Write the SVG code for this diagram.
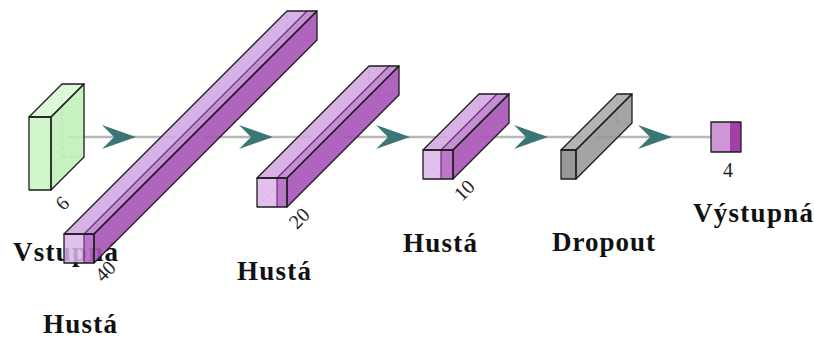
<svg xmlns="http://www.w3.org/2000/svg" width="814" height="339" viewBox="0 0 814 339">
<style>
.line{stroke:#b8b8b8;stroke-width:2.5;fill:none}
.head{fill:#3b7676}
.edge{fill:none;stroke:#1c1c1c;stroke-width:1.3;stroke-linejoin:round}
.hid{fill:none;stroke:#555;stroke-width:0.9;stroke-dasharray:4 3;opacity:0.7}
.band{fill:none;stroke:#5e2a6a;stroke-width:1.1}
.fl{fill:#dcb6e8;fill-opacity:0.85}
.fb{fill:#b469c2;fill-opacity:0.9}
.tl{fill:#d2a4e0;fill-opacity:0.85}
.tb{fill:#c083ce;fill-opacity:0.9}
.sd{fill:#a853b7;fill-opacity:0.9}
.lbl{font-family:"Liberation Serif",serif;font-weight:bold;font-size:27px;fill:#111;text-anchor:middle}
.num{font-family:"Liberation Serif",serif;font-size:20px;fill:#222;text-anchor:middle;dominant-baseline:central}
</style>
<defs>
<path id="ah" d="M0,0 L-34,-12 L-22,0 L-34,12 Z"/>
</defs>
<rect width="814" height="339" fill="#fff"/>
<g id="connectors">
<line class="line" x1="68" y1="137" x2="176" y2="137"/>
<line class="line" x1="205" y1="137" x2="312" y2="137"/>
<line class="line" x1="342" y1="137" x2="447" y2="137"/>
<line class="line" x1="480" y1="137" x2="583" y2="137"/>
<line class="line" x1="596" y1="137" x2="711" y2="137"/>
<use href="#ah" class="head" x="136" y="137"/>
<use href="#ah" class="head" x="273" y="137"/>
<use href="#ah" class="head" x="410" y="137"/>
<use href="#ah" class="head" x="548" y="137"/>
<use href="#ah" class="head" x="672" y="137"/>
</g>
<g id="input">
<path class="hid" d="M62,157 L62,84 M62,157 L84,157 M62,157 L29,190"/>
<rect x="29" y="117" width="22" height="73" fill="#c9f4c2" fill-opacity="0.85"/>
<polygon points="29,117 51,117 84,84 62,84" fill="#d8f8d2" fill-opacity="0.85"/>
<polygon points="51,117 51,190 84,157 84,84" fill="#bdefb6" fill-opacity="0.85"/>
<rect class="edge" x="29" y="117" width="22" height="73"/>
<polygon class="edge" points="29,117 51,117 84,84 62,84"/>
<polygon class="edge" points="51,117 51,190 84,157 84,84"/>
<text class="num" transform="translate(62,203) rotate(-45)">6</text>
<text class="lbl" x="65.5" y="261" textLength="105" lengthAdjust="spacing">Vstupná</text>
</g>
<g id="dense40">
<path class="hid" d="M287,40 L287,11 M287,40 L317,40 M287,40 L64,263"/>
<rect class="fl" x="64" y="234" width="20" height="29"/>
<rect class="fb" x="84" y="234" width="10" height="29"/>
<polygon class="tl" points="64,234 84,234 307,11 287,11"/>
<polygon class="tb" points="84,234 94,234 317,11 307,11"/>
<polygon class="sd" points="94,234 94,263 317,40 317,11"/>
<path class="band" d="M84,234 L84,263 M84,234 L307,11"/>
<rect class="edge" x="64" y="234" width="30" height="29"/>
<polygon class="edge" points="64,234 94,234 317,11 287,11"/>
<polygon class="edge" points="94,234 94,263 317,40 317,11"/>
<text class="num" transform="translate(105,271) rotate(-45)">40</text>
<text class="lbl" x="80" y="333" font-size="26" textLength="74" lengthAdjust="spacing">Hustá</text>
</g>
<g id="dense20">
<path class="hid" d="M369,95 L369,66 M369,95 L399,95 M369,95 L257,207"/>
<rect class="fl" x="257" y="178" width="20" height="29"/>
<rect class="fb" x="277" y="178" width="10" height="29"/>
<polygon class="tl" points="257,178 277,178 389,66 369,66"/>
<polygon class="tb" points="277,178 287,178 399,66 389,66"/>
<polygon class="sd" points="287,178 287,207 399,95 399,66"/>
<path class="band" d="M277,178 L277,207 M277,178 L389,66"/>
<rect class="edge" x="257" y="178" width="30" height="29"/>
<polygon class="edge" points="257,178 287,178 399,66 369,66"/>
<polygon class="edge" points="287,178 287,207 399,95 399,66"/>
<text class="num" transform="translate(299,218) rotate(-45)">20</text>
<text class="lbl" x="274" y="280" textLength="74" lengthAdjust="spacing">Hustá</text>
</g>
<g id="dense10">
<path class="hid" d="M479,123 L479,94 M479,123 L509,123 M479,123 L423,179"/>
<rect class="fl" x="423" y="150" width="18" height="29"/>
<rect class="fb" x="441" y="150" width="12" height="29"/>
<polygon class="tl" points="423,150 441,150 497,94 479,94"/>
<polygon class="tb" points="441,150 453,150 509,94 497,94"/>
<polygon class="sd" points="453,150 453,179 509,123 509,94"/>
<path class="band" d="M441,150 L441,179 M441,150 L497,94"/>
<rect class="edge" x="423" y="150" width="30" height="29"/>
<polygon class="edge" points="423,150 453,150 509,94 479,94"/>
<polygon class="edge" points="453,150 453,179 509,123 509,94"/>
<text class="num" transform="translate(464,190) rotate(-45)">10</text>
<text class="lbl" x="440" y="252" textLength="74" lengthAdjust="spacing">Hustá</text>
</g>
<g id="dropout">
<path class="hid" d="M617,123 L617,94 M617,123 L632,123 M617,123 L561,179"/>
<rect x="561" y="150" width="15" height="29" fill="#8d8d8d" fill-opacity="0.9"/>
<polygon points="561,150 576,150 632,94 617,94" fill="#ababab" fill-opacity="0.9"/>
<polygon points="576,150 576,179 632,123 632,94" fill="#9a9a9a" fill-opacity="0.9"/>
<rect class="edge" x="561" y="150" width="15" height="29"/>
<polygon class="edge" points="561,150 576,150 632,94 617,94"/>
<polygon class="edge" points="576,150 576,179 632,123 632,94"/>
<text class="lbl" x="603.5" y="251" textLength="103" lengthAdjust="spacing">Dropout</text>
</g>
<g id="output">
<rect x="711" y="122" width="19" height="30" fill="#cf96d6"/>
<rect x="730" y="122" width="11" height="30" fill="#a23fa8"/>
<rect class="edge" x="711" y="122" width="30" height="30"/>
<text x="728" y="177" font-family="Liberation Serif, serif" font-size="20" fill="#222" text-anchor="middle">4</text>
<text class="lbl" x="753" y="222" textLength="120" lengthAdjust="spacing">Výstupná</text>
</g>
</svg>
